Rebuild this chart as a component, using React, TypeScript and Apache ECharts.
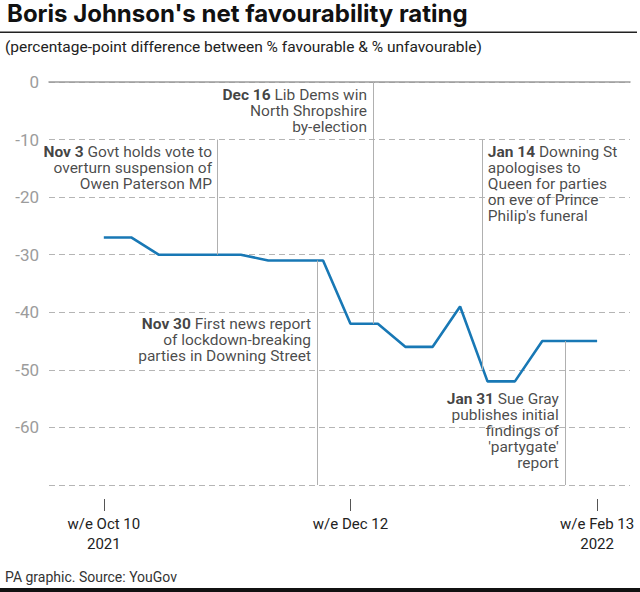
import React, { useEffect, useRef } from "react";
import * as echarts from "echarts";

// Weekly data, index 0 = w/e Oct 10 2021 ... index 18 = w/e Feb 13 2022
const weekIndex = [0, 1, 2, 3, 4, 5, 6, 7, 8, 9, 10, 11, 12, 13, 14, 15, 16, 17, 18];
const netRating = [-27, -27, -30, -30, -30, -30, -31, -31, -31, -42, -42, -46, -46, -39, -52, -52, -45, -45, -45];

const xTickValues = [0, 9, 18];
const xTickLabels = ["w/e Oct 10\n2021", "w/e Dec 12", "w/e Feb 13\n2022"];
const yTicks = [0, -10, -20, -30, -40, -50, -60];

// Events (x in week-index units, vertical line from top to bottom value)
const eventX = [4.15, 9.84, 7.8, 13.81, 16.84];
const eventTop = [-10, 0, -31, -10, -45];
const eventBottom = [-30, -42, -70, -50, -70];
const eventDate = ["Nov 3", "Dec 16", "Nov 30", "Jan 14", "Jan 31"];
const eventText = [
  " Govt holds vote to\noverturn suspension of\nOwen Paterson MP",
  " Lib Dems win\nNorth Shropshire\nby-election",
  " First news report\nof lockdown-breaking\nparties in Downing Street",
  " Downing St\napologises to\nQueen for parties\non eve of Prince\nPhilip's funeral",
  " Sue Gray\npublishes initial\nfindings of\n'partygate'\nreport",
];

// layout of each event label (pixel offsets from the line's top end)
const labelLayout = [
  { dx: -5, dy: 5, align: "right" },
  { dx: -6, dy: 5, align: "right" },
  { dx: -6, dy: 56, align: "right" },
  { dx: 6, dy: 5, align: "left" },
  { dx: -6, dy: 50, align: "right" },
];

const FONT = "Roboto";
const TITLE_FONT = "Inter";

export default function App() {
  const ref = useRef<HTMLDivElement>(null);
  useEffect(() => {
    if (!ref.current) return;
    const chart = echarts.init(ref.current, undefined, { renderer: "svg" });

    const lineData = weekIndex.map((w, i) => [w, netRating[i]]);

    const eventPoints = eventX.map((x, i) => {
      const lay = labelLayout[i];
      const lines = eventText[i].split("\n");
      const first = `{b|${eventDate[i]}}{n|${lines[0]}}`;
      const rest = lines.slice(1).map((l) => `{n|${l}}`);
      return {
        value: [x, eventTop[i]],
        label: {
          show: true,
          position: [lay.dx, lay.dy],
          align: lay.align,
          verticalAlign: "top",
          formatter: [first, ...rest].join("\n"),
        },
      };
    });

    const markLines = eventX.map((x, i) => [
      { coord: [x, eventTop[i]] },
      { coord: [x, eventBottom[i]] },
    ]);

    const xMin = -2;
    const xMax = 19.2;

    chart.setOption({
      animation: false,
      textStyle: { fontFamily: FONT },
      grid: { left: 49, right: 10, top: 82, bottom: 107, containLabel: false },
      xAxis: [
        {
          type: "value",
          min: xMin,
          max: xMax,
          axisLine: { show: true, lineStyle: { color: "#9a9a9a", width: 1.5 } },
          axisTick: { show: false },
          axisLabel: { show: false },
          splitLine: { show: false },
        },
        {
          type: "value",
          min: xMin,
          max: xMax,
          position: "bottom",
          offset: 14,
          axisLine: { show: false },
          axisTick: {
            show: true,
            customValues: xTickValues,
            length: 12,
            lineStyle: { color: "#555", width: 1 },
          },
          axisLabel: {
            show: true,
            customValues: xTickValues,
            margin: 15,
            fontSize: 15,
            lineHeight: 20,
            color: "#222",
            fontFamily: FONT,
            formatter: (v: number) => {
              const idx = xTickValues.indexOf(Math.round(v));
              return idx >= 0 ? xTickLabels[idx] : "";
            },
          },
          splitLine: { show: false },
        },
      ],
      yAxis: {
        type: "value",
        min: -70,
        max: 0,
        interval: 10,
        axisLine: { show: false },
        axisTick: { show: false },
        axisLabel: {
          fontSize: 17,
          color: "#9c9c9c",
          margin: 10,
          fontFamily: FONT,
          formatter: (v: number) => (yTicks.indexOf(v) >= 0 ? String(v) : ""),
        },
        splitLine: {
          show: true,
          lineStyle: { color: "#b5b5b5", type: [6, 4], width: 1 },
        },
      },
      series: [
        {
          type: "scatter",
          xAxisIndex: 0,
          yAxisIndex: 0,
          symbolSize: 1,
          itemStyle: { color: "rgba(0,0,0,0)" },
          silent: true,
          z: 1,
          label: {
            fontFamily: FONT,
            fontSize: 15.5,
            lineHeight: 16,
            color: "#1a1a1a",
            rich: {
              b: { fontWeight: "bold", fontSize: 15.5, lineHeight: 16, color: "#111", fontFamily: FONT },
              n: { fontSize: 15.5, lineHeight: 16, color: "#1a1a1a", fontFamily: FONT },
            },
          },
          data: eventPoints,
          markLine: {
            silent: true,
            symbol: ["none", "none"],
            label: { show: false },
            lineStyle: { color: "#b0b0b0", type: "solid", width: 1 },
            data: markLines,
          },
        },
        {
          type: "line",
          xAxisIndex: 0,
          yAxisIndex: 0,
          data: lineData,
          showSymbol: false,
          symbol: "none",
          z: 3,
          lineStyle: { color: "#1878b5", width: 2.6 },
        },
      ],
      graphic: [
        {
          type: "text",
          left: 7,
          top: 1,
          style: {
            text: "Boris Johnson's net favourability rating",
            font: `bold 24px ${TITLE_FONT}`,
            fill: "#111",
          },
        },
        {
          type: "rect",
          shape: { x: 0, y: 31.5, width: 637, height: 1.5 },
          style: { fill: "#222" },
        },
        {
          type: "text",
          left: 5,
          top: 39,
          style: {
            text: "(percentage-point difference between % favourable & % unfavourable)",
            font: `15.5px ${FONT}`,
            fill: "#222",
          },
        },
        {
          type: "text",
          left: 5,
          top: 570,
          style: {
            text: "PA graphic. Source: YouGov",
            font: `14px ${FONT}`,
            fill: "#333",
          },
        },
        {
          type: "rect",
          shape: { x: 0, y: 588, width: 640, height: 4 },
          style: { fill: "#111" },
        },
      ],
    });
    return () => chart.dispose();
  }, []);
  return (
    <div
      ref={ref}
      style={{ position: "fixed", left: 0, top: 0, width: 640, height: 592, background: "#fff" }}
    />
  );
}
